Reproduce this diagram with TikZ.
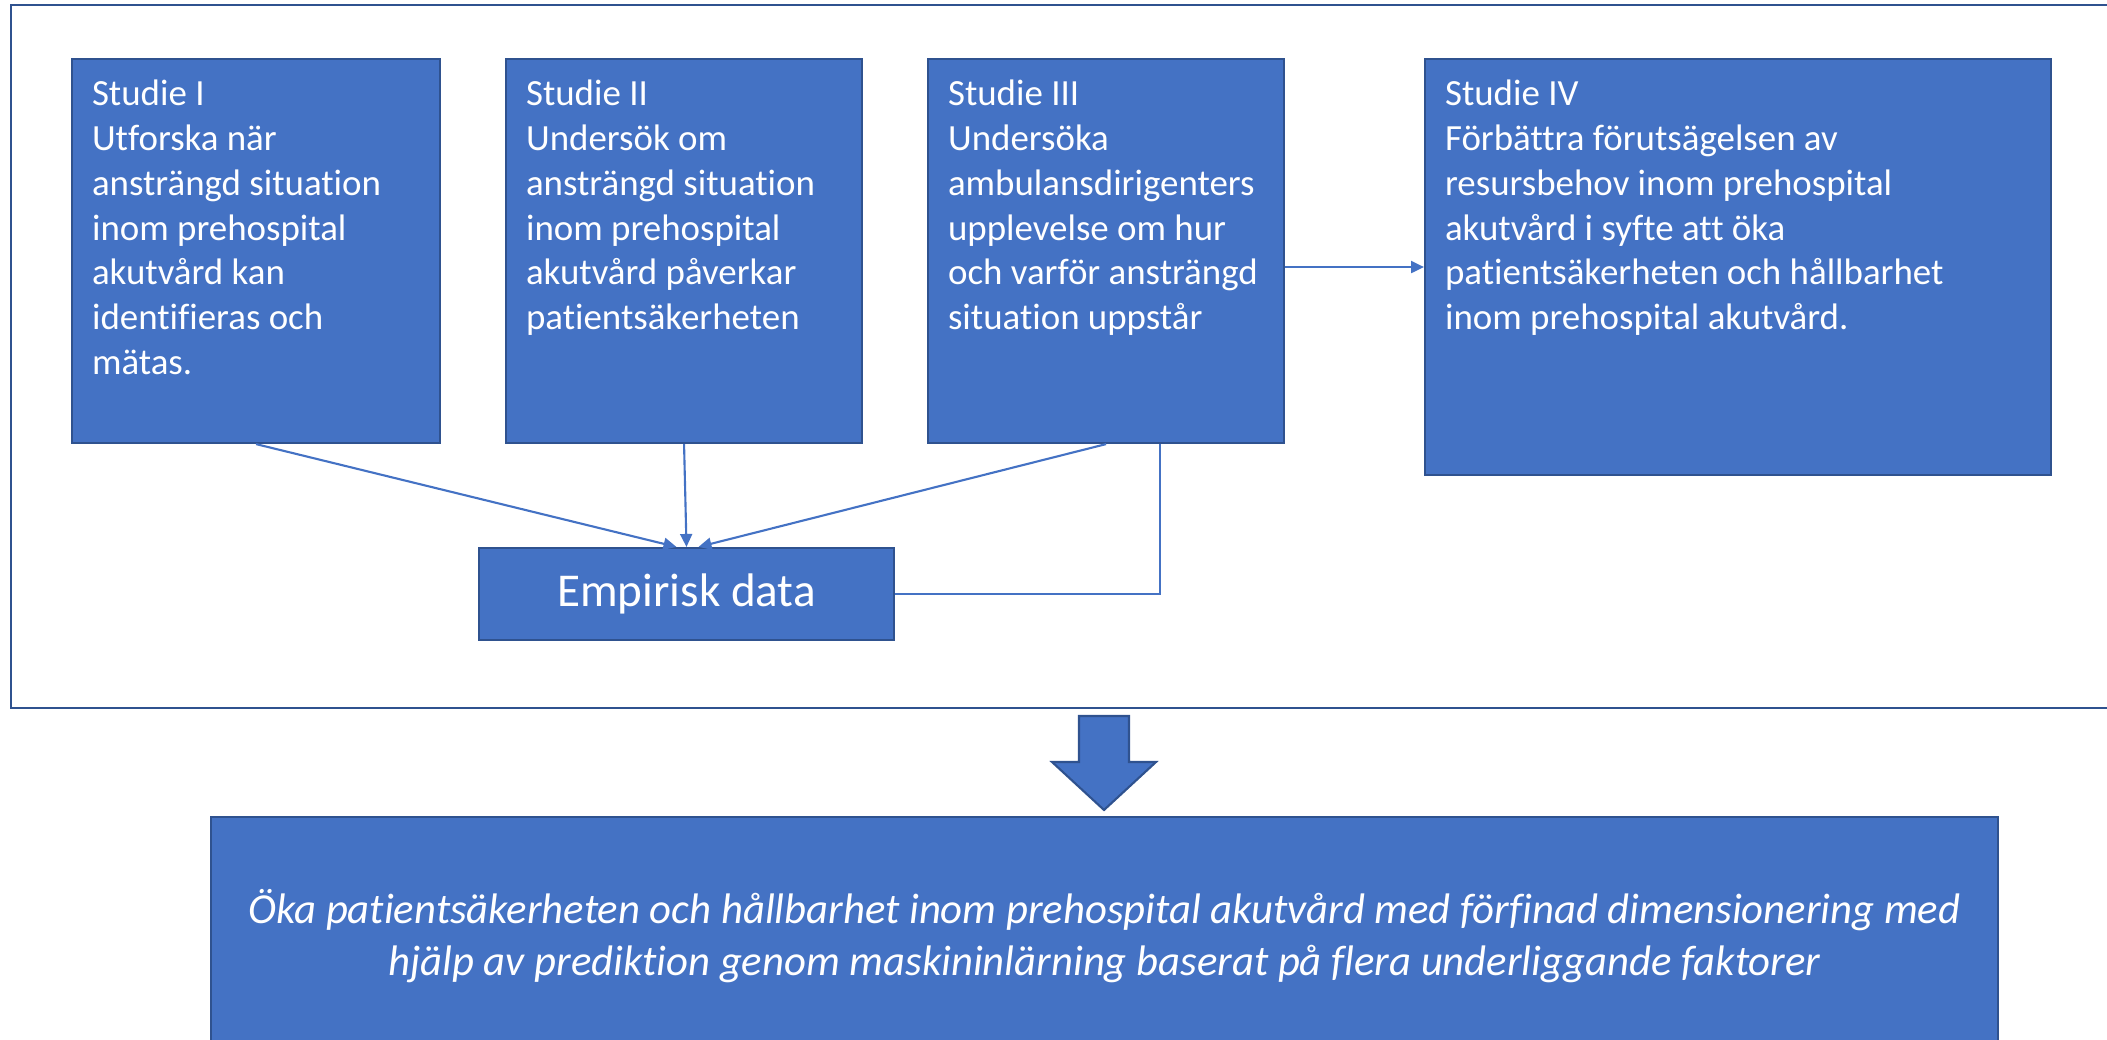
\documentclass[tikz,border=0pt]{standalone}
\usepackage{fontspec}
\setmainfont{Carlito}[Ligatures=NoCommon]
\usetikzlibrary{arrows.meta,calc,positioning}
\definecolor{ofblue}{HTML}{4472C4}
\definecolor{ofdark}{HTML}{2F528F}
% text i rutorna, uppifrån
\newcommand{\boxtext}[3]{\parbox[t][#2][t]{#1}{\rule{0pt}{0.46cm}#3}}

\begin{document}
\begin{tikzpicture}[
	studie/.style={draw=ofdark, fill=ofblue, line width=0.6pt, text=white, anchor=north west, inner xsep=0.2cm, inner ysep=0pt, font=\fontsize{10.5}{12.8}\selectfont},
	link/.style={draw=ofblue, line width=0.6pt},
	>={Triangle[length=1.3mm,width=1.2mm]}
	]
	\useasboundingbox (0,0) rectangle (21.07,-10.40);
	\clip (0,0) rectangle (21.07,-10.40);

	% ramen
	\draw[ofdark, line width=0.6pt] (0.11,-0.05) rectangle (21.3,-7.08);

	% studierna
	\node[studie] (s1) at (0.71,-0.58) {\boxtext{3.28cm}{3.84cm}{Studie I\\Utforska när\\ansträngd situation\\inom prehospital\\akutvård kan\\identifieras och\\mätas.}};
	\node[studie] (s2) at (5.05,-0.58) {\boxtext{3.16cm}{3.84cm}{Studie II\\Undersök om\\ansträngd situation\\inom prehospital\\akutvård påverkar\\patientsäkerheten}};
	\node[studie] (s3) at (9.27,-0.58) {\boxtext{3.16cm}{3.84cm}{Studie III\\Undersöka\\ambulansdirigenters\\upplevelse om hur\\och varför ansträngd\\situation uppstår}};
	\node[studie] (s4) at (14.24,-0.58) {\boxtext{5.86cm}{4.16cm}{Studie IV\\Förbättra förutsägelsen av\\resursbehov inom prehospital\\akutvård i syfte att öka\\patientsäkerheten och hållbarhet\\inom prehospital akutvård.}};

	\node[draw=ofdark, fill=ofblue, line width=0.6pt, text=white, minimum width=4.15cm, minimum height=0.92cm, font=\fontsize{13.4}{16}\selectfont] (emp) at (6.865,-5.94) {Empirisk data};

	% pilar
	\draw[link, ->] (s1.south) -- ($(emp.north)+(-0.1,0)$);
	\draw[link, ->] (s2.south) -- (emp.north);
	\draw[link, ->] (s3.south) -- ($(emp.north)+(0.12,0)$);
	\draw[link] (emp.east) -| ($(s3.south west)!0.65!(s3.south east)$);
	\draw[link, ->] (s3.east |- s4.west) -- (s4.west);

	% blockpil
	\filldraw[draw=ofdark, fill=ofblue, line width=0.6pt] (10.79,-7.16) -- (11.29,-7.16) -- (11.29,-7.62) -- (11.56,-7.62) -- (11.04,-8.10) -- (10.52,-7.62) -- (10.79,-7.62) -- cycle;

	% mål
	\node[draw=ofdark, fill=ofblue, line width=0.6pt, text=white, minimum width=17.87cm, minimum height=2.38cm, align=center, font=\fontsize{12.15}{14.9}\selectfont\itshape] (goal) at (11.045,-9.36) {Öka patientsäkerheten och hållbarhet inom prehospital akutvård med förfinad dimensionering med\\hjälp av prediktion genom maskininlärning baserat på flera underliggande faktorer};
\end{tikzpicture}
\end{document}
